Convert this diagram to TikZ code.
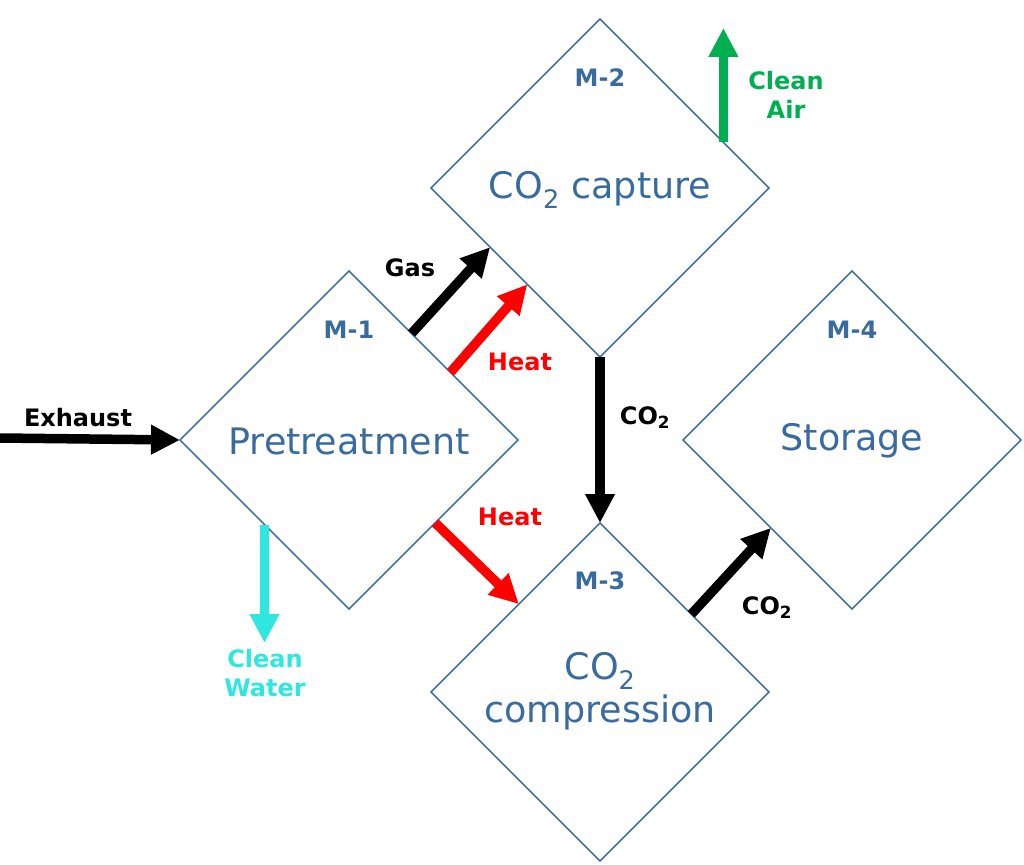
\documentclass[tikz,border=0pt]{standalone}
\usepackage{fontspec}
\setmainfont{DejaVu Sans}
\usetikzlibrary{shapes.geometric,arrows.meta,calc}

\definecolor{mblue}{HTML}{3A6B9F}
\definecolor{mline}{HTML}{4472A0}
\definecolor{airgreen}{HTML}{00B050}
\definecolor{watercyan}{HTML}{2EE8E0}
\definecolor{heatred}{HTML}{FF0000}
\newcommand{\cotwo}{CO\textsubscript{2}}

\begin{document}
\begin{tikzpicture}[
    x=1pt, y=-1pt,
    module/.style={diamond, draw=mline, line width=1.5pt,
        minimum width=338pt, minimum height=338pt,
        inner sep=0pt, outer sep=0pt},
    mtag/.style={text=mblue, font=\fontsize{24}{28}\selectfont\bfseries},
    mname/.style={text=mblue, font=\fontsize{36.5}{43}\selectfont, align=center},
    flow/.style={line width=9.5pt, -{Triangle[length=29pt,width=28pt]}},
    ftag/.style={font=\fontsize{24}{29}\selectfont\bfseries, align=center}
]
\useasboundingbox (0,0) rectangle (1024,864);

% Modulos
\node[module] (m1) at (349,440) {};
\node[module] (m2) at (600,188) {};
\node[module] (m3) at (600,692) {};
\node[module] (m4) at (852,440) {};

% Etiquetas de los modulos
\node[mtag] (t1) at (349,330) {M-1};
\node[mtag] (t2) at (600,78) {M-2};
\node[mtag] (t3) at (600,581) {M-3};
\node[mtag] (t4) at (852,330) {M-4};

\node[mname] (n1) at (349,441) {Pretreatment};
\node[mname] (n2) at (600,190) {\cotwo{} capture};
\node[mname] (n3) at (600,691) {\cotwo\\compression};
\node[mname] (n4) at (852,441) {Storage};

% Extremos libres
\coordinate (inlet) at (0,438);
\coordinate (wsrc) at ($(m1.west)!0.5!(m1.south)$);
\coordinate (water) at (wsrc |- 0,643);
\coordinate (asrc) at ($(m2.north)!0.73!(m2.east)$);
\coordinate (air) at (asrc |- 0,28);

% Flujos
\draw[flow] (inlet) -- (m1.west);
\draw[flow] ($(m1.north)!0.37!(m1.east)$) -- ($(m2.west)!0.35!(m2.south)$);
\draw[flow, heatred] ($(m1.north)!0.6!(m1.east)$) -- ($(m2.west)!0.57!(m2.south)$);
\draw[flow] (m2.south) -- (m3.north);
\draw[flow, heatred] ($(m1.east)!0.49!(m1.south)$) -- ($(m3.west)!0.52!(m3.north)$);
\draw[flow] ($(m3.north)!0.54!(m3.east)$) -- ($(m4.west)!0.52!(m4.south)$);
\draw[flow, watercyan] (wsrc) -- (water);
\draw[flow, airgreen] (asrc) -- (air);

% Textos de los flujos
\node[ftag] (exh) at (78,418) {Exhaust};
\node[ftag] (gas) at (410,268) {Gas};
\node[ftag, text=heatred] (h1) at (520,362) {Heat};
\node[ftag] (c1) at (645,418) {\cotwo};
\node[ftag, text=heatred] (h2) at (510,517) {Heat};
\node[ftag] (c2) at (767,608) {\cotwo};
\node[ftag, text=watercyan] (cw) at (265,673) {Clean\\Water};
\node[ftag, text=airgreen] (ca) at (786,95) {Clean\\Air};

\end{tikzpicture}
\end{document}
